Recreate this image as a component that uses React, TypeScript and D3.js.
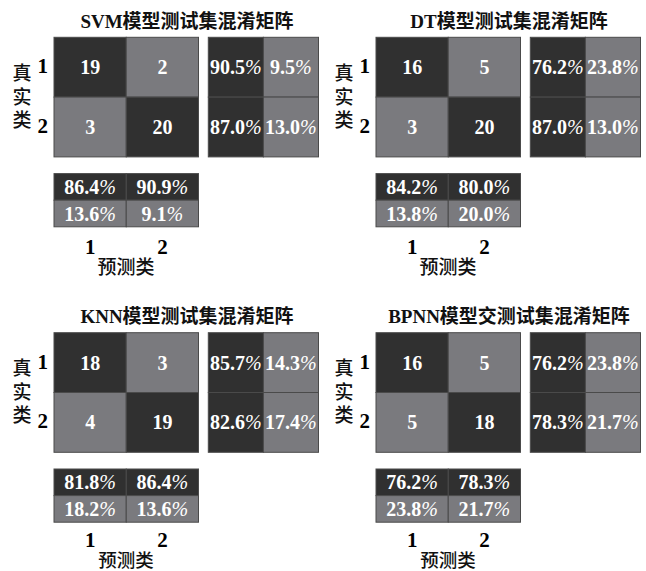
import React from "react";
import * as d3 from "d3";

const titles = [
  "SVM模型测试集混淆矩阵",
  "DT模型测试集混淆矩阵",
  "KNN模型测试集混淆矩阵",
  "BPNN模型交测试集混淆矩阵",
];
const classLabels = ["1", "2"];
// confusion counts [true row][predicted col]
const svmCounts = [[19, 2], [3, 20]];
const dtCounts = [[16, 5], [3, 20]];
const knnCounts = [[18, 3], [4, 19]];
const bpnnCounts = [[16, 5], [5, 18]];
// row summary per true class: [correct %, incorrect %]
const svmRowPct = [[90.5, 9.5], [87.0, 13.0]];
const dtRowPct = [[76.2, 23.8], [87.0, 13.0]];
const knnRowPct = [[85.7, 14.3], [82.6, 17.4]];
const bpnnRowPct = [[76.2, 23.8], [78.3, 21.7]];
// column summary per predicted class: [correct %, incorrect %]
const svmColPct = [[86.4, 13.6], [90.9, 9.1]];
const dtColPct = [[84.2, 13.8], [80.0, 20.0]];
const knnColPct = [[81.8, 18.2], [86.4, 13.6]];
const bpnnColPct = [[76.2, 23.8], [78.3, 21.7]];

const countsList = [svmCounts, dtCounts, knnCounts, bpnnCounts];
const rowPctList = [svmRowPct, dtRowPct, knnRowPct, bpnnRowPct];
const colPctList = [svmColPct, dtColPct, knnColPct, bpnnColPct];

const DARK = "#303030";
const LIGHT = "#7a7a7e";
const STROKE = "#4a4a4a";
const SERIF = "'Liberation Serif', 'Times New Roman', serif";
const CJK = "'Liberation Serif', 'Noto Sans CJK SC', serif";
const NUM = 20;

const W = 646;
const H = 571;

function Pct({ v, x, y }: { v: number; x: number; y: number }) {
  return (
    <text
      x={x}
      y={y}
      textAnchor="middle"
      dominantBaseline="central"
      fill="#fff"
      fontFamily={SERIF}
      fontWeight="bold"
      fontSize={NUM}
    >
      {v.toFixed(1)}
      <tspan fontStyle="italic" fontWeight="normal">%</tspan>
    </text>
  );
}

function Panel({ idx, ox, oy, bottom }: { idx: number; ox: number; oy: number; bottom: boolean }) {
  const counts = countsList[idx];
  const rowPct = rowPctList[idx];
  const colPct = colPctList[idx];
  const xMain = d3.scaleBand<number>().domain([0, 1]).range([54, 198.5]);
  const yMain = d3.scaleBand<number>().domain([0, 1]).range([37.3, 156.9]);
  const xSum = d3.scaleBand<number>().domain([0, 1]).range([208.3, 318.5]);
  const ySum = d3.scaleBand<number>().domain([0, 1]).range([173.6, 226.8]);
  const yMid = (37.3 + 156.7) / 2;
  return (
    <g transform={`translate(${ox},${oy})`}>
      <text
        x={187}
        y={21}
        textAnchor="middle"
        dominantBaseline="central"
        fontFamily={CJK}
        fontWeight="bold"
        fontSize={19}
        fill="#111"
      >
        {titles[idx]}
      </text>
      {/* main matrix */}
      {[0, 1].map((r) =>
        [0, 1].map((c) => (
          <g key={`m${r}${c}`}>
            <rect
              x={xMain(c)}
              y={yMain(r)}
              width={xMain.bandwidth()}
              height={yMain.bandwidth()}
              fill={r === c ? DARK : LIGHT}
              stroke={STROKE}
              strokeWidth={1}
            />
            <text
              x={xMain(c)! + xMain.bandwidth() / 2}
              y={yMain(r)! + yMain.bandwidth() / 2}
              textAnchor="middle"
              dominantBaseline="central"
              fill="#fff"
              fontFamily={SERIF}
              fontWeight="bold"
              fontSize={NUM}
            >
              {counts[r][c]}
            </text>
          </g>
        ))
      )}
      {/* row summary */}
      {[0, 1].map((r) =>
        [0, 1].map((k) => (
          <g key={`r${r}${k}`}>
            <rect
              x={xSum(k)}
              y={yMain(r)}
              width={xSum.bandwidth()}
              height={yMain.bandwidth()}
              fill={k === 0 ? DARK : LIGHT}
              stroke={STROKE}
              strokeWidth={1}
            />
            <Pct
              v={rowPct[r][k]}
              x={xSum(k)! + xSum.bandwidth() / 2}
              y={yMain(r)! + yMain.bandwidth() / 2}
            />
          </g>
        ))
      )}
      {/* column summary */}
      {[0, 1].map((c) =>
        [0, 1].map((k) => (
          <g key={`c${c}${k}`}>
            <rect
              x={xMain(c)}
              y={ySum(k)}
              width={xMain.bandwidth()}
              height={ySum.bandwidth()}
              fill={k === 0 ? DARK : LIGHT}
              stroke={STROKE}
              strokeWidth={1}
            />
            <Pct
              v={colPct[c][k]}
              x={xMain(c)! + xMain.bandwidth() / 2}
              y={ySum(k)! + ySum.bandwidth() / 2}
            />
          </g>
        ))
      )}
      {/* tick labels */}
      {classLabels.map((l, i) => (
        <text
          key={`tx${i}`}
          x={xMain(i)! + xMain.bandwidth() / 2}
          y={bottom ? 245 : 247}
          textAnchor="middle"
          dominantBaseline="central"
          fontFamily={SERIF}
          fontWeight={700}
          fontSize={21}
          fill="#000"
        >
          {l}
        </text>
      ))}
      {classLabels.map((l, i) => (
        <text
          key={`ty${i}`}
          x={42.7}
          y={yMain(i)! + yMain.bandwidth() / 2 - 1}
          textAnchor="middle"
          dominantBaseline="central"
          fontFamily={SERIF}
          fontWeight={700}
          fontSize={21}
          fill="#000"
        >
          {l}
        </text>
      ))}
      <text
        x={126}
        y={bottom ? 265.5 : 267.5}
        textAnchor="middle"
        dominantBaseline="central"
        fontFamily={CJK}
        fontWeight={500}
        fontSize={bottom ? 18.5 : 19}
        fill="#111"
      >
        预测类
      </text>
      {["真", "实", "类"].map((ch, i) => (
        <text
          key={`v${i}`}
          x={22}
          y={yMid + (i - 1) * 23.5}
          textAnchor="middle"
          dominantBaseline="central"
          fontFamily={CJK}
          fontWeight={500}
          fontSize={19}
          fill="#111"
        >
          {ch}
        </text>
      ))}
    </g>
  );
}

export default function App() {
  const offsets = [
    [0, 0],
    [322, 0],
    [0, 295.4],
    [322, 295.4],
  ];
  return (
    <svg
      width={W}
      height={H}
      style={{ position: "absolute", left: 0, top: 0, background: "#fff" }}
    >
      <rect x={0} y={0} width={W} height={H} fill="#fff" />
      {offsets.map(([ox, oy], i) => (
        <Panel key={i} idx={i} ox={ox} oy={oy} bottom={i >= 2} />
      ))}
    </svg>
  );
}
